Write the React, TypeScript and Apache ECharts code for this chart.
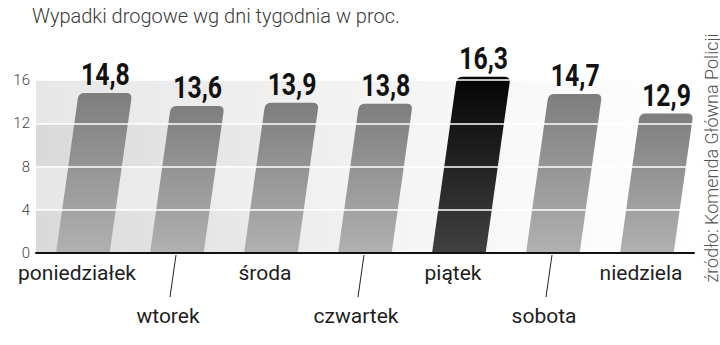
import React, { useEffect, useRef } from "react";
import * as echarts from "echarts";

const title = "Wypadki drogowe wg dni tygodnia w proc.";
const source = "źródło: Komenda Główna Policji";
const days = ["poniedziałek", "wtorek", "środa", "czwartek", "piątek", "sobota", "niedziela"];
const shares = [14.8, 13.6, 13.9, 13.8, 16.3, 14.7, 12.9];
const highlightDay = "piątek";
const yTicks = { min: 0, max: 16, interval: 4 };

const SLANT = 0.14;

function bandGradient(c: string) {
  return new echarts.graphic.LinearGradient(0, 0, 1, 0, [
    { offset: 0, color: c },
    { offset: 0.55, color: "#f4f4f4" },
    { offset: 1, color: "#ffffff" },
  ]);
}

export default function App() {
  const ref = useRef<HTMLDivElement>(null);
  useEffect(() => {
    const chart = echarts.init(ref.current!, null, { renderer: "svg" });
    const fontMain = "Roboto, 'Noto Sans', sans-serif";
    const data = shares.map((v, i) => [i, v]);
    const option: any = {
      animation: false,
      backgroundColor: "#ffffff",
      grid: { left: 36, right: 26, top: 80, bottom: 92 },
      graphic: [
        {
          type: "text",
          left: 32,
          top: 6,
          style: { text: title, fill: "#3a3a3a", font: `300 20px ${fontMain}` },
        },
        {
          type: "text",
          x: 711,
          y: 158,
          rotation: Math.PI / 2,
          style: {
            text: source,
            fill: "#555",
            font: `300 18px ${fontMain}`,
            align: "center",
            verticalAlign: "middle",
          },
        },
      ],
      xAxis: {
        type: "category",
        data: days,
        z: 11,
        axisLine: { show: true, lineStyle: { color: "#111", width: 2 } },
        axisTick: { show: false },
        axisLabel: {
          interval: 0,
          margin: 9,
          formatter: (v: string, i: number) => (i % 2 ? `{b|${v}}` : `{a|${v}}`),
          rich: {
            a: { fontFamily: fontMain, fontSize: 21, color: "#1e1e1e", padding: [0, 12, 0, 0] },
            b: { fontFamily: fontMain, fontSize: 21, color: "#1e1e1e", padding: [43, 18, 0, 0] },
          },
        },
      },
      yAxis: [
        {
          type: "value",
          ...yTicks,
          axisLine: { show: false },
          axisTick: { show: false },
          splitLine: { show: false },
          splitArea: {
            show: true,
            areaStyle: { color: [bandGradient("#d9d9d9"), bandGradient("#e7e7e7")] },
          },
          axisLabel: {
            margin: 6,
            color: "#444",
            fontFamily: fontMain,
            fontWeight: 300,
            fontSize: 15,
            padding: [0, 0, 6, 0],
          },
        },
        {
          type: "value",
          ...yTicks,
          z: 10,
          position: "left",
          axisLine: { show: false },
          axisTick: { show: false },
          axisLabel: { show: false },
          splitLine: { show: true, showMinLine: false, lineStyle: { color: "#ffffff", width: 1.6 } },
        },
      ],
      series: [
        {
          type: "custom",
          clip: false,
          z: 2,
          data,
          encode: { x: 0, y: 1 },
          renderItem: (params: any, api: any) => {
            const idx = api.value(0);
            const val = api.value(1);
            const base = api.coord([idx, 0]);
            const top = api.coord([idx, val]);
            const bw = api.size([1, 0])[0];
            const w = bw * 0.57;
            const h = base[1] - top[1];
            const shift = h * SLANT;
            const bx = base[0];
            const by = base[1] - 1;
            const tx = bx + shift;
            const ty = top[1];
            const r = 6;
            const BL = [bx - w / 2, by];
            const BR = [bx + w / 2, by];
            const TR = [tx + w / 2, ty];
            const TL = [tx - w / 2, ty];
            const dx = TR[0] - BR[0];
            const dy = TR[1] - BR[1];
            const L = Math.sqrt(dx * dx + dy * dy);
            const p1 = [TR[0] - (dx / L) * r, TR[1] - (dy / L) * r];
            const p2 = [TR[0] - r, TR[1]];
            const p3 = [TL[0] + r, TL[1]];
            const p4 = [TL[0] + (-dx / L) * r, TL[1] + (-dy / L) * r];
            const d =
              `M${BL[0]} ${BL[1]} L${BR[0]} ${BR[1]} L${p1[0]} ${p1[1]} ` +
              `Q${TR[0]} ${TR[1]} ${p2[0]} ${p2[1]} L${p3[0]} ${p3[1]} ` +
              `Q${TL[0]} ${TL[1]} ${p4[0]} ${p4[1]} Z`;
            const hl = days[idx] === highlightDay;
            const fill = new echarts.graphic.LinearGradient(0, 0, 0, 1, hl
              ? [
                  { offset: 0, color: "#050505" },
                  { offset: 1, color: "#404040" },
                ]
              : [
                  { offset: 0, color: "#7e7e7e" },
                  { offset: 1, color: "#b0b0b0" },
                ]);
            const children: any[] = [
              { type: "path", shape: { pathData: d }, style: { fill } },
            ];
            if (idx % 2 === 1) {
              children.push({
                type: "line",
                shape: { x1: bx - 1, y1: base[1] + 2, x2: bx - 7, y2: base[1] + 44 },
                style: { stroke: "#222", lineWidth: 1 },
              });
            }
            return { type: "group", children };
          },
        },
        {
          type: "custom",
          clip: false,
          z: 12,
          data,
          encode: { x: 0, y: 1 },
          renderItem: (params: any, api: any) => {
            const idx = api.value(0);
            const val = api.value(1);
            const base = api.coord([idx, 0]);
            const top = api.coord([idx, val]);
            const h = base[1] - top[1];
            return {
              type: "text",
              x: base[0] + h * SLANT,
              y: top[1] - 3,
              scaleX: 0.8,
              style: {
                text: val.toFixed(1).replace(".", ","),
                fill: "#111",
                font: `bold 31px ${fontMain}`,
                align: "center",
                verticalAlign: "bottom",
              },
            };
          },
        },
      ],
    };
    chart.setOption(option);
    return () => chart.dispose();
  }, []);
  return (
    <div
      ref={ref}
      style={{ position: "fixed", left: 0, top: 0, width: 720, height: 345 }}
    />
  );
}
